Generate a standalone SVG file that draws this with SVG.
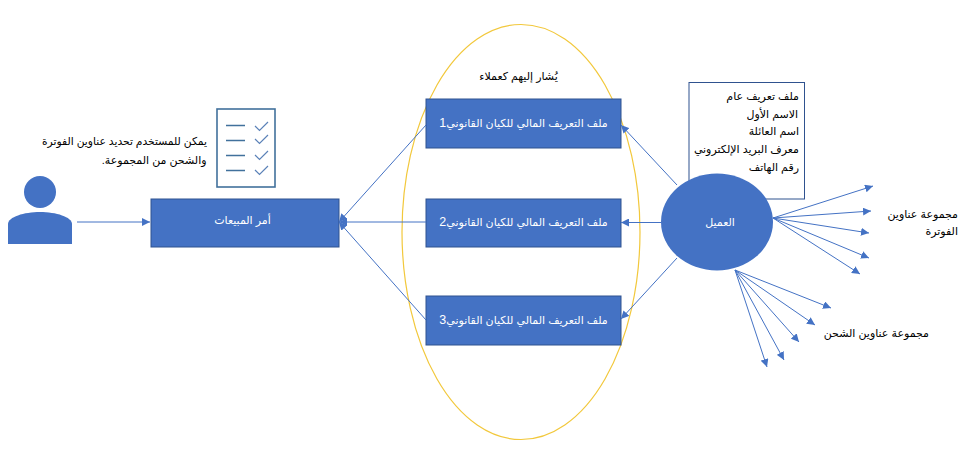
<svg xmlns="http://www.w3.org/2000/svg" width="975" height="452" viewBox="0 0 975 452">
<style>
text{font-family:"Liberation Sans","DejaVu Sans",sans-serif;font-size:11px;fill:#000;direction:rtl}
.w{fill:#fff;text-anchor:middle}
.m{text-anchor:middle}
.d{font-size:12.500px}
.box{fill:#4472c4;stroke:#2f528f;stroke-width:1}
.c{stroke:#4472c4;stroke-width:1;fill:none;marker-end:url(#a)}
.k{stroke:#41719c;stroke-width:1.600;fill:none}
.t{stroke:#5b82b8;stroke-width:1.200;fill:none}
</style>
<defs><marker id="a" markerUnits="userSpaceOnUse" markerWidth="9" markerHeight="8" refX="8" refY="4" orient="auto"><path d="M0 0L8 4L0 8Z" fill="#4472c4"/></marker></defs>
<rect width="975" height="452" fill="#fff"/>
<g id="customers-ellipse"><ellipse cx="521" cy="232" rx="119" ry="207.500" fill="none" stroke="#f2c83c" stroke-width="1.200"/><text class="m" x="518.500" y="80">يُشار إليهم كعملاء</text></g>
<g id="person"><circle cx="40" cy="192" r="16" fill="#4472c4"/><path d="M8 244V224C8 217 24 212 40 212S72 217 72 224V244Z" fill="#4472c4"/></g>
<g id="checklist"><rect x="217" y="109" width="58" height="78" fill="#fff" stroke="#41719c" stroke-width="1.600"/>
<path class="k" d="M226 125.500H245M226 140.500H245M226 155.500H245M226 170.500H245"/>
<path class="t" d="M255 126l4.500 4.500l8.500-8.500M255 139l4.500 4.500l8.500-8.500M255 155l4.500 4.500l8.500-8.500M255 170l4.500 4.500l8.500-8.500"/></g>
<g id="note"><text x="207" y="145" textLength="165" lengthAdjust="spacingAndGlyphs">يمكن للمستخدم تحديد عناوين الفوترة</text><text x="206.500" y="163.500">والشحن من المجموعة.</text></g>
<g id="sales-order"><rect class="box" x="151" y="199" width="188" height="48"/><text class="w" x="242.500" y="224">أمر المبيعات</text></g>
<g id="legal-1"><rect class="box" x="426" y="99" width="195" height="49"/><text class="w" x="523.500" y="127">ملف التعريف المالي للكيان القانوني<tspan class="d">1</tspan></text></g>
<g id="legal-2"><rect class="box" x="426" y="199" width="195" height="48"/><text class="w" x="523.500" y="226">ملف التعريف المالي للكيان القانوني<tspan class="d">2</tspan></text></g>
<g id="legal-3"><rect class="box" x="426" y="296" width="195" height="49"/><text class="w" x="523.500" y="324">ملف التعريف المالي للكيان القانوني<tspan class="d">3</tspan></text></g>
<g id="profile"><rect x="689" y="82.500" width="115.500" height="116.500" fill="#fff" stroke="#2f528f" stroke-width="1"/>
<text x="799" y="100">ملف تعريف عام</text><text x="798" y="118">الاسم الأول</text><text x="799" y="135">اسم العائلة</text><text x="799" y="153">معرف البريد الإلكتروني</text><text x="799" y="171">رقم الهاتف</text></g>
<g id="customer"><ellipse cx="717" cy="222" rx="56" ry="48.500" fill="#4472c4"/><text class="w" x="720" y="225.500">العميل</text></g>
<g id="billing-label"><text x="958" y="218">مجموعة عناوين</text><text x="958" y="235">الفوترة</text></g>
<g id="shipping-label"><text x="929" y="337">مجموعة عناوين الشحن</text></g>
<g id="connectors">
<path class="c" d="M77 222H150"/>
<path class="c" d="M426 125L339 222"/><path class="c" d="M426 222H339"/><path class="c" d="M426 320L339 222"/>
<path class="c" d="M677 185L621 125"/><path class="c" d="M661 222.500H621"/><path class="c" d="M677 258L621 319"/>
<path class="c" d="M773 218L873 186"/><path class="c" d="M773 218L871 211"/><path class="c" d="M773 218L869 233"/><path class="c" d="M773 218L869 258"/><path class="c" d="M773 218L860 274"/>
<path class="c" d="M735 270L831 308"/><path class="c" d="M735 270L815 325"/><path class="c" d="M735 270L799 342"/><path class="c" d="M735 270L784 360"/><path class="c" d="M735 270L767 367"/>
</g>
</svg>
